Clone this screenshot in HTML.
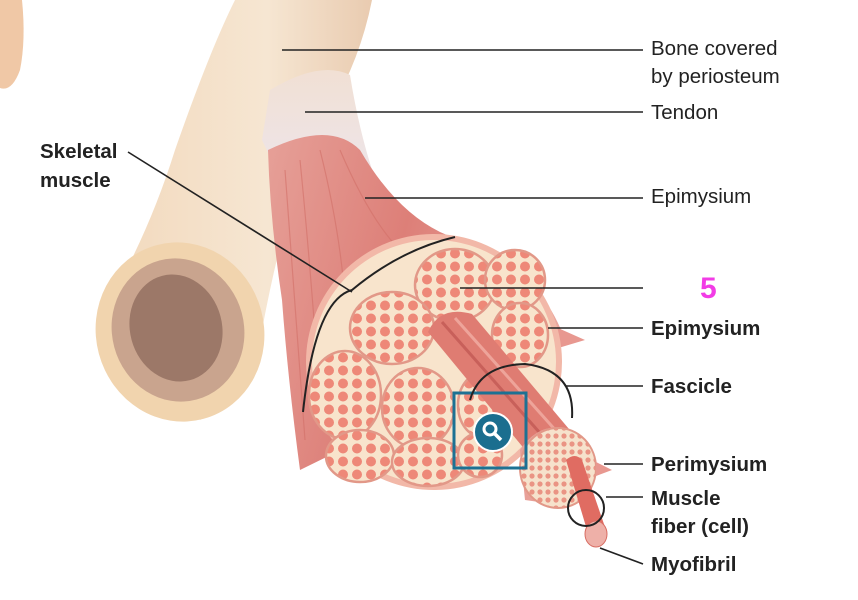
<!DOCTYPE html>
<html><head><meta charset="utf-8"><style>
html,body{margin:0;padding:0;background:#fff;}
svg{display:block}
text{font-family:"Liberation Sans",sans-serif;font-size:20.5px;fill:#222}
.b{font-weight:bold}
</style></head><body>
<svg width="858" height="600" viewBox="0 0 858 600" xmlns="http://www.w3.org/2000/svg">
<defs>
<pattern id="fib" width="14" height="13" patternUnits="userSpaceOnUse">
<rect width="14" height="13" fill="#f8e4cc"/>
<circle cx="7" cy="6.5" r="5" fill="#ee8878"/>
</pattern>
<pattern id="fib2" width="8" height="8" patternUnits="userSpaceOnUse">
<rect width="8" height="8" fill="#f6e2cc"/>
<circle cx="4" cy="4" r="2.6" fill="#ea9484"/>
</pattern>
<linearGradient id="bone" x1="0" y1="0" x2="1" y2="0">
<stop offset="0" stop-color="#f2d9bd"/><stop offset="0.6" stop-color="#f6e6d2"/><stop offset="1" stop-color="#e9cbb0"/>
</linearGradient>
<linearGradient id="mus" x1="0" y1="0" x2="1" y2="0.3">
<stop offset="0" stop-color="#e6a098"/><stop offset="0.5" stop-color="#dd7f78"/><stop offset="1" stop-color="#e9a69e"/>
</linearGradient>
<linearGradient id="ten" x1="0" y1="0" x2="0" y2="1">
<stop offset="0" stop-color="#f1e0d4"/><stop offset="0.5" stop-color="#eee4e6"/><stop offset="1" stop-color="#e09a92"/>
</linearGradient>
</defs>
<!-- finger -->
<path d="M0 0 L22 0 Q26 40 20 70 Q12 92 0 88 Z" fill="#f0c8a6"/>
<!-- bone shaft -->
<path d="M235 0 L372 0 Q360 60 330 110 Q290 180 262 330 Q240 400 200 420 L110 300 Q150 230 175 150 Q210 50 235 0 Z" fill="url(#bone)"/>
<ellipse cx="180" cy="332" rx="84" ry="90" fill="#f1d4ae" transform="rotate(-15 180 332)"/>
<ellipse cx="178" cy="330" rx="66" ry="72" fill="#c9a48e" transform="rotate(-15 178 330)"/>
<ellipse cx="176" cy="328" rx="46" ry="54" fill="#9c7868" transform="rotate(-15 176 328)"/>
<!-- tendon -->
<path d="M270 90 Q320 60 350 75 Q362 150 385 205 L320 250 Q290 200 262 140 Z" fill="url(#ten)"/>
<!-- muscle belly -->
<path d="M268 150 Q330 120 360 150 Q395 210 440 232 L470 245 Q540 270 565 340 L300 470 Q288 380 282 300 Q270 220 268 150 Z" fill="url(#mus)"/>
<g stroke="#d27068" stroke-width="1.2" opacity="0.6" fill="none">
<path d="M285 170 Q295 300 305 440"/><path d="M300 160 Q310 260 320 400"/><path d="M320 150 Q340 230 345 300"/><path d="M340 150 Q370 220 400 250"/>
</g>
<!-- flap epimysium -->
<path d="M540 320 L585 340 L545 352 Z" fill="#e89890"/>
<!-- cross section -->
<ellipse cx="434" cy="362" rx="128" ry="128" fill="#f2b8a8" transform="rotate(-12 434 362)"/>
<ellipse cx="434" cy="362" rx="122" ry="122" fill="#f8e4cc" transform="rotate(-12 434 362)"/>
<g fill="url(#fib)" stroke="#e29888" stroke-width="2.5">
<ellipse cx="455" cy="285" rx="40" ry="36"/>
<ellipse cx="515" cy="280" rx="30" ry="30"/>
<ellipse cx="392" cy="328" rx="42" ry="36"/>
<ellipse cx="520" cy="335" rx="28" ry="32"/>
<ellipse cx="345" cy="395" rx="36" ry="44"/>
<ellipse cx="418" cy="408" rx="36" ry="40"/>
<ellipse cx="360" cy="456" rx="34" ry="26"/>
<ellipse cx="428" cy="462" rx="36" ry="24"/>
<ellipse cx="482" cy="405" rx="24" ry="32"/>
<ellipse cx="480" cy="455" rx="22" ry="22"/>
</g>
<!-- fascicle tube -->
<path d="M428 332 Q440 305 472 314 L585 448 L545 474 Z" fill="#df7c72"/>
<path d="M442 322 L562 458" stroke="#c8605a" stroke-width="3" fill="none"/>
<path d="M455 318 L575 452" stroke="#eea49a" stroke-width="3" fill="none"/>
<!-- small cross section -->
<path d="M520 450 Q540 420 570 430 Q600 450 595 470 L560 505 L525 500 Z" fill="#e8a098"/>
<ellipse cx="558" cy="468" rx="38" ry="40" fill="url(#fib2)" stroke="#e29888" stroke-width="2"/>
<path d="M596 462 L612 470 L596 476 Z" fill="#e89890"/>
<!-- fiber -->
<path d="M566 460 Q575 452 582 460 L606 530 L590 540 Z" fill="#e06c62"/>
<ellipse cx="596" cy="534" rx="11" ry="13" fill="#eeb0a8" stroke="#d86c62"/>
<!-- blue box -->
<rect x="454" y="393" width="72" height="75" fill="none" stroke="#1d7193" stroke-width="3"/>
<circle cx="493" cy="432" r="19" fill="#1b6e8f" stroke="#fff" stroke-width="2"/>
<circle cx="490" cy="429" r="6" fill="none" stroke="#fff" stroke-width="3"/>
<line x1="494" y1="433" x2="501" y2="440" stroke="#fff" stroke-width="3.5"/>
<!-- arcs -->
<path d="M303 412 Q315 300 352 290 Q400 250 455 237" fill="none" stroke="#222" stroke-width="2"/>
<path d="M470 400 Q480 365 525 364 Q575 370 572 418" fill="none" stroke="#222" stroke-width="2"/>
<circle cx="586" cy="508" r="18" fill="none" stroke="#222" stroke-width="2"/>
<!-- leader lines -->
<g stroke="#222" stroke-width="1.6">
<line x1="282" y1="50" x2="643" y2="50"/>
<line x1="305" y1="112" x2="643" y2="112"/>
<line x1="365" y1="198" x2="643" y2="198"/>
<line x1="460" y1="288" x2="643" y2="288"/>
<line x1="548" y1="328" x2="643" y2="328"/>
<line x1="565" y1="386" x2="643" y2="386"/>
<line x1="604" y1="464" x2="643" y2="464"/>
<line x1="606" y1="497" x2="643" y2="497"/>
<line x1="600" y1="548" x2="643" y2="564"/>
<line x1="128" y1="152" x2="352" y2="292"/>
</g>
<text x="651" y="55">Bone covered</text>
<text x="651" y="83">by periosteum</text>
<text x="651" y="119">Tendon</text>
<text x="651" y="203">Epimysium</text>
<text x="700" y="298" style="fill:#f23ce6;font-size:30px;font-weight:bold">5</text>
<text class="b" x="651" y="335">Epimysium</text>
<text class="b" x="651" y="393">Fascicle</text>
<text class="b" x="651" y="471">Perimysium</text>
<text class="b" x="651" y="505">Muscle</text>
<text class="b" x="651" y="533">fiber (cell)</text>
<text class="b" x="651" y="571">Myofibril</text>
<text class="b" x="40" y="158">Skeletal</text>
<text class="b" x="40" y="187">muscle</text>
</svg>
</body></html>
